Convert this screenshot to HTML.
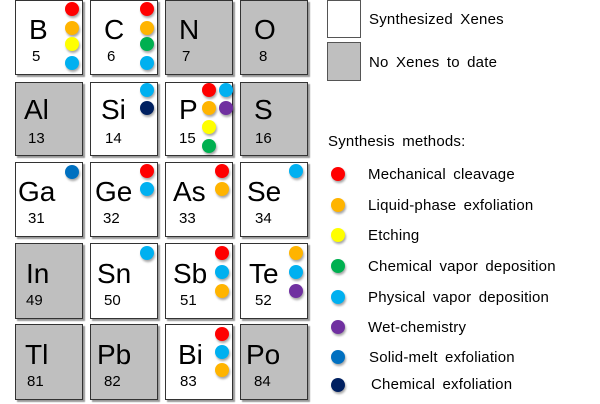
<!DOCTYPE html>
<html><head><meta charset="utf-8"><style>
body{margin:0;width:600px;height:404px;background:#fff;position:relative;overflow:hidden;font-family:"Liberation Sans",Arial,sans-serif;color:#000}
.c{position:absolute;width:66px;border:1.5px solid #333;box-shadow:2px 2px 1px #999;background:#fff;box-sizing:content-box}
.g{background:#bfbfbf}
.s{position:absolute;font-size:28px;line-height:1}
.n{position:absolute;font-size:15px;line-height:1}
.d{position:absolute;width:14px;height:14px;border-radius:50%;margin:-7px 0 0 -7px;box-shadow:1px 2px 2px rgba(0,0,0,.35)}
.r{background:#f00}.o{background:#ffb400}.y{background:#ff0}.gr{background:#00b050}.b{background:#00b0f0}.p{background:#7030a0}.m{background:#0070c0}.k{background:#002060}
.t{position:absolute;font-size:15px;line-height:1;white-space:nowrap;word-spacing:3px;letter-spacing:0.2px}
</style></head><body>
<!-- row1 -->
<div class="c" style="left:15px;top:0;height:73px"><div class="s" style="left:13px;top:15px">B</div><div class="n" style="left:16px;top:48px">5</div></div>
<div class="c" style="left:90px;top:0;height:73px"><div class="s" style="left:13px;top:15px">C</div><div class="n" style="left:16px;top:48px">6</div></div>
<div class="c g" style="left:165px;top:0;height:73px"><div class="s" style="left:13px;top:15px">N</div><div class="n" style="left:16px;top:48px">7</div></div>
<div class="c g" style="left:240px;top:0;height:73px"><div class="s" style="left:13px;top:15px">O</div><div class="n" style="left:18px;top:48px">8</div></div>
<!-- row2 -->
<div class="c g" style="left:15px;top:82px;height:72px"><div class="s" style="left:8px;top:13px">Al</div><div class="n" style="left:12px;top:48px">13</div></div>
<div class="c" style="left:90px;top:82px;height:72px"><div class="s" style="left:10px;top:13px">Si</div><div class="n" style="left:14px;top:48px">14</div></div>
<div class="c" style="left:165px;top:82px;height:72px"><div class="s" style="left:13px;top:13px">P</div><div class="n" style="left:13px;top:48px">15</div></div>
<div class="c g" style="left:240px;top:82px;height:72px"><div class="s" style="left:13px;top:13px">S</div><div class="n" style="left:14px;top:48px">16</div></div>
<!-- row3 -->
<div class="c" style="left:15px;top:162px;height:73px"><div class="s" style="left:2px;top:15px">Ga</div><div class="n" style="left:12px;top:48px">31</div></div>
<div class="c" style="left:90px;top:162px;height:73px"><div class="s" style="left:4px;top:15px">Ge</div><div class="n" style="left:12px;top:48px">32</div></div>
<div class="c" style="left:165px;top:162px;height:73px"><div class="s" style="left:7px;top:15px">As</div><div class="n" style="left:13px;top:48px">33</div></div>
<div class="c" style="left:240px;top:162px;height:73px"><div class="s" style="left:6px;top:15px">Se</div><div class="n" style="left:14px;top:48px">34</div></div>
<!-- row4 -->
<div class="c g" style="left:15px;top:243px;height:74px"><div class="s" style="left:10px;top:16px">In</div><div class="n" style="left:10px;top:49px">49</div></div>
<div class="c" style="left:90px;top:243px;height:74px"><div class="s" style="left:6px;top:16px">Sn</div><div class="n" style="left:13px;top:49px">50</div></div>
<div class="c" style="left:165px;top:243px;height:74px"><div class="s" style="left:7px;top:16px">Sb</div><div class="n" style="left:14px;top:49px">51</div></div>
<div class="c" style="left:240px;top:243px;height:74px"><div class="s" style="left:8px;top:16px">Te</div><div class="n" style="left:14px;top:49px">52</div></div>
<!-- row5 -->
<div class="c g" style="left:15px;top:324px;height:74px"><div class="s" style="left:9px;top:16px">Tl</div><div class="n" style="left:11px;top:49px">81</div></div>
<div class="c g" style="left:90px;top:324px;height:74px"><div class="s" style="left:6px;top:16px">Pb</div><div class="n" style="left:13px;top:49px">82</div></div>
<div class="c" style="left:165px;top:324px;height:74px"><div class="s" style="left:12px;top:16px">Bi</div><div class="n" style="left:14px;top:49px">83</div></div>
<div class="c g" style="left:240px;top:324px;height:74px"><div class="s" style="left:5px;top:16px">Po</div><div class="n" style="left:13px;top:49px">84</div></div>

<!-- dots -->
<div class="d r" style="left:72px;top:9px"></div><div class="d o" style="left:72px;top:28px"></div><div class="d y" style="left:72px;top:44px"></div><div class="d b" style="left:72px;top:63px"></div>
<div class="d r" style="left:147px;top:9px"></div><div class="d o" style="left:147px;top:28px"></div><div class="d gr" style="left:147px;top:44px"></div><div class="d b" style="left:147px;top:63px"></div>
<div class="d b" style="left:147px;top:90px"></div><div class="d k" style="left:147px;top:108px"></div>
<div class="d r" style="left:209px;top:90px"></div><div class="d b" style="left:226px;top:90px"></div><div class="d o" style="left:209px;top:108px"></div><div class="d p" style="left:226px;top:108px"></div><div class="d y" style="left:209px;top:127px"></div><div class="d gr" style="left:209px;top:146px"></div>
<div class="d m" style="left:72px;top:172px"></div>
<div class="d r" style="left:147px;top:171px"></div><div class="d b" style="left:147px;top:189px"></div>
<div class="d r" style="left:222px;top:171px"></div><div class="d o" style="left:222px;top:189px"></div>
<div class="d b" style="left:296px;top:171px"></div>
<div class="d b" style="left:147px;top:253px"></div>
<div class="d r" style="left:222px;top:253px"></div><div class="d b" style="left:222px;top:272px"></div><div class="d o" style="left:222px;top:291px"></div>
<div class="d o" style="left:296px;top:253px"></div><div class="d b" style="left:296px;top:272px"></div><div class="d p" style="left:296px;top:291px"></div>
<div class="d r" style="left:222px;top:334px"></div><div class="d b" style="left:222px;top:352px"></div><div class="d o" style="left:222px;top:370px"></div>

<!-- legend -->
<div class="c" style="left:327px;top:0;width:32px;height:36px;box-shadow:none;border-color:#555"></div>
<div class="c g" style="left:327px;top:42px;width:32px;height:37px;box-shadow:none;border-color:#555"></div>
<div class="t" style="left:369px;top:12px">Synthesized Xenes</div>
<div class="t" style="left:369px;top:55px">No Xenes to date</div>
<div class="t" style="left:328px;top:134px">Synthesis methods:</div>
<div class="d r" style="left:338px;top:174px"></div><div class="t" style="left:368px;top:167px">Mechanical cleavage</div>
<div class="d o" style="left:338px;top:205px"></div><div class="t" style="left:368px;top:198px">Liquid-phase exfoliation</div>
<div class="d y" style="left:338px;top:235px"></div><div class="t" style="left:368px;top:228px">Etching</div>
<div class="d gr" style="left:338px;top:266px"></div><div class="t" style="left:368px;top:259px">Chemical vapor deposition</div>
<div class="d b" style="left:338px;top:297px"></div><div class="t" style="left:368px;top:290px">Physical vapor deposition</div>
<div class="d p" style="left:338px;top:327px"></div><div class="t" style="left:368px;top:320px">Wet-chemistry</div>
<div class="d m" style="left:338px;top:357px"></div><div class="t" style="left:369px;top:350px">Solid-melt exfoliation</div>
<div class="d k" style="left:338px;top:385px"></div><div class="t" style="left:371px;top:377px">Chemical exfoliation</div>
</body></html>
